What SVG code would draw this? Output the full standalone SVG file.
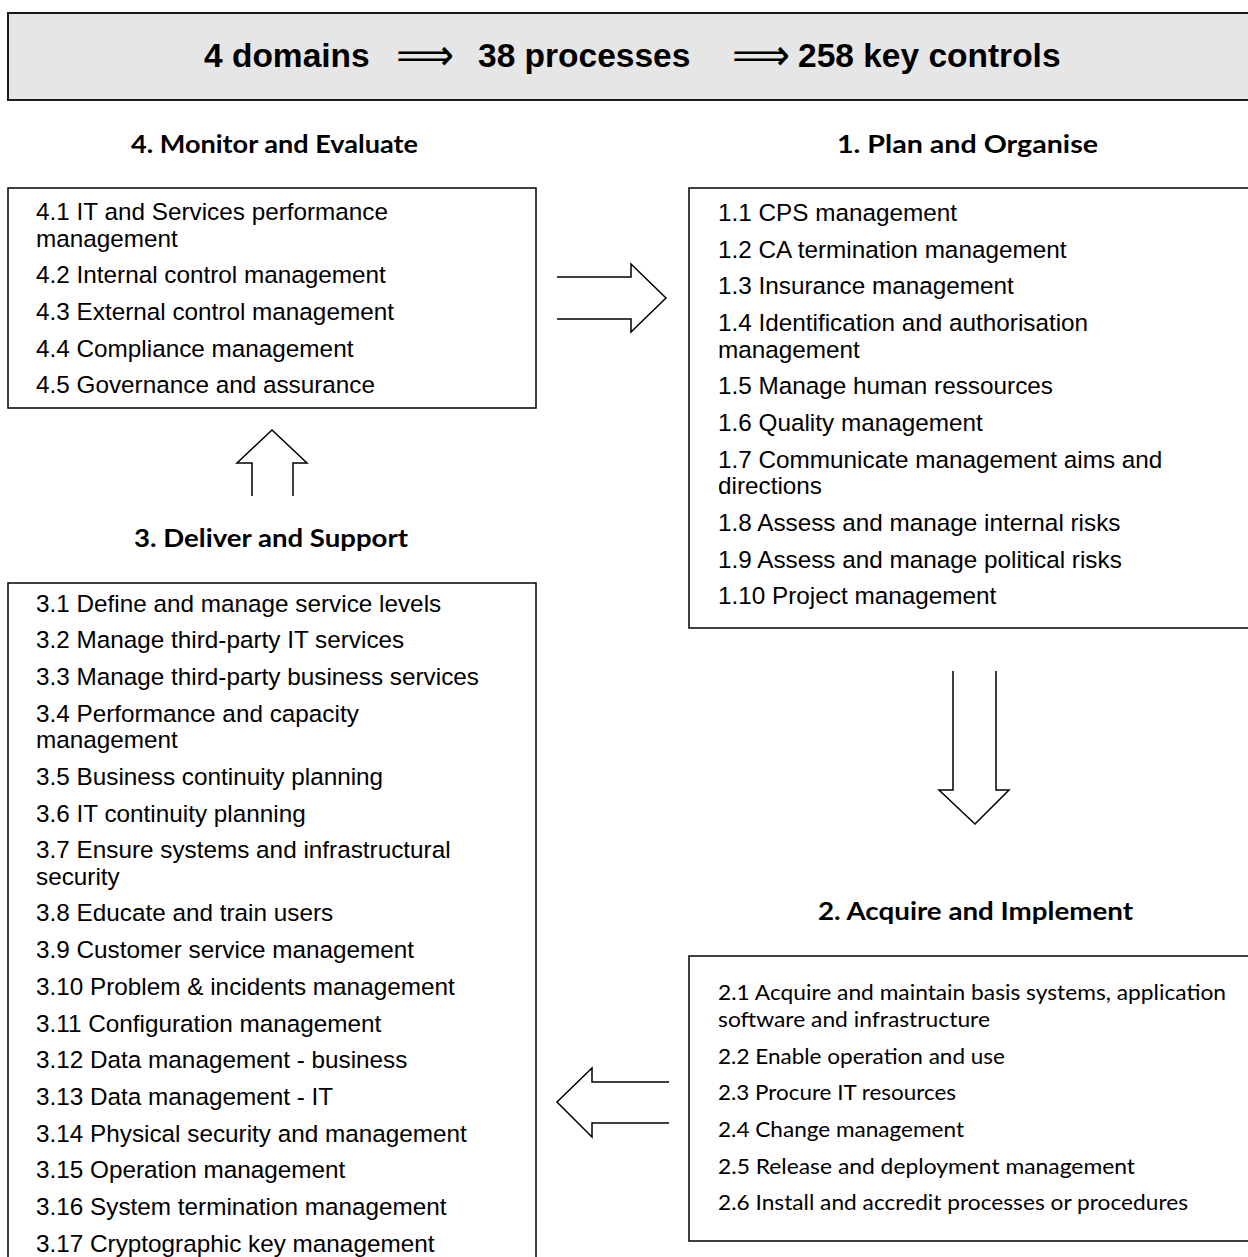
<svg xmlns="http://www.w3.org/2000/svg" width="1248" height="1257" viewBox="0 0 1248 1257">
<style>
.box{fill:#fff;stroke:#000;stroke-width:1.5}
.hdr{fill:#e6e6e6;stroke:#1a1a1a;stroke-width:2}
.ht{font-family:"Liberation Sans",Arial,sans-serif;font-weight:bold;font-size:33.5px;fill:#000}
.ha{font-family:"DejaVu Sans",sans-serif;font-size:44px;fill:#000}
.t{font-family:"Liberation Sans",Arial,sans-serif;font-size:24.3px;fill:#000}
.c{font-family:Lato,"Open Sans",sans-serif;font-size:20.5px;fill:#000}
.h{font-family:Lato,"Open Sans",sans-serif;font-weight:bold;font-size:24px;fill:#000;text-anchor:middle}
.arr{fill:#fff;stroke:#000;stroke-width:1.5;stroke-linejoin:miter}
</style>
<rect width="1248" height="1257" fill="#fff"/>

<g id="header">
<rect class="hdr" x="8" y="13" width="1260" height="87"/>
<text class="ht" x="204" y="67">4 domains</text>
<text class="ha" x="396" y="70" textLength="58" lengthAdjust="spacingAndGlyphs">⟹</text>
<text class="ht" x="478" y="67">38 processes</text>
<text class="ha" x="732" y="70" textLength="58" lengthAdjust="spacingAndGlyphs">⟹</text>
<text class="ht" x="798" y="67">258 key controls</text>
</g>

<g id="domain4">
<text class="h" x="274.5" y="153" textLength="287" lengthAdjust="spacingAndGlyphs">4. Monitor and Evaluate</text>
<rect class="box" x="8" y="188" width="528" height="220"/>
<text class="t" x="36" y="220">4.1 IT and Services performance</text>
<text class="t" x="36" y="246.5">management</text>
<text class="t" x="36" y="283.2">4.2 Internal control management</text>
<text class="t" x="36" y="319.9">4.3 External control management</text>
<text class="t" x="36" y="356.6">4.4 Compliance management</text>
<text class="t" x="36" y="393.3">4.5 Governance and assurance</text>
</g>

<g id="domain1">
<text class="h" x="967.5" y="153" textLength="261" lengthAdjust="spacingAndGlyphs">1. Plan and Organise</text>
<rect class="box" x="689" y="188" width="600" height="440"/>
<text class="t" x="718" y="221">1.1 CPS management</text>
<text class="t" x="718" y="257.7">1.2 CA termination management</text>
<text class="t" x="718" y="294.4">1.3 Insurance management</text>
<text class="t" x="718" y="331.1">1.4 Identification and authorisation</text>
<text class="t" x="718" y="357.6">management</text>
<text class="t" x="718" y="394.3">1.5 Manage human ressources</text>
<text class="t" x="718" y="431">1.6 Quality management</text>
<text class="t" x="718" y="467.7">1.7 Communicate management aims and</text>
<text class="t" x="718" y="494.2">directions</text>
<text class="t" x="718" y="530.9">1.8 Assess and manage internal risks</text>
<text class="t" x="718" y="567.6">1.9 Assess and manage political risks</text>
<text class="t" x="718" y="604.3">1.10 Project management</text>
</g>

<g id="domain2">
<text class="h" x="975.5" y="920" textLength="315" lengthAdjust="spacingAndGlyphs">2. Acquire and Implement</text>
<rect class="box" x="689" y="956" width="600" height="285"/>
<text class="c" x="718" y="1000" textLength="508" lengthAdjust="spacingAndGlyphs">2.1 Acquire and maintain basis systems, application</text>
<text class="c" x="718" y="1027" textLength="272" lengthAdjust="spacingAndGlyphs">software and infrastructure</text>
<text class="c" x="718" y="1063.5" textLength="287" lengthAdjust="spacingAndGlyphs">2.2 Enable operation and use</text>
<text class="c" x="718" y="1100" textLength="238" lengthAdjust="spacingAndGlyphs">2.3 Procure IT resources</text>
<text class="c" x="718" y="1136.8" textLength="246" lengthAdjust="spacingAndGlyphs">2.4 Change management</text>
<text class="c" x="718" y="1173.5" textLength="417" lengthAdjust="spacingAndGlyphs">2.5 Release and deployment management</text>
<text class="c" x="718" y="1210.2" textLength="470" lengthAdjust="spacingAndGlyphs">2.6 Install and accredit processes or procedures</text>
</g>

<g id="domain3">
<text class="h" x="271" y="547" textLength="274" lengthAdjust="spacingAndGlyphs">3. Deliver and Support</text>
<rect class="box" x="8" y="583" width="528" height="700"/>
<text class="t" x="36" y="611.5">3.1 Define and manage service levels</text>
<text class="t" x="36" y="648.2">3.2 Manage third-party IT services</text>
<text class="t" x="36" y="684.9">3.3 Manage third-party business services</text>
<text class="t" x="36" y="721.6">3.4 Performance and capacity</text>
<text class="t" x="36" y="748.1">management</text>
<text class="t" x="36" y="784.8">3.5 Business continuity planning</text>
<text class="t" x="36" y="821.5">3.6 IT continuity planning</text>
<text class="t" x="36" y="858.2">3.7 Ensure systems and infrastructural</text>
<text class="t" x="36" y="884.7">security</text>
<text class="t" x="36" y="921.4">3.8 Educate and train users</text>
<text class="t" x="36" y="958.1">3.9 Customer service management</text>
<text class="t" x="36" y="994.8">3.10 Problem &amp; incidents management</text>
<text class="t" x="36" y="1031.5">3.11 Configuration management</text>
<text class="t" x="36" y="1068.2">3.12 Data management - business</text>
<text class="t" x="36" y="1104.9">3.13 Data management - IT</text>
<text class="t" x="36" y="1141.6">3.14 Physical security and management</text>
<text class="t" x="36" y="1178.3">3.15 Operation management</text>
<text class="t" x="36" y="1215">3.16 System termination management</text>
<text class="t" x="36" y="1251.7">3.17 Cryptographic key management</text>
</g>

<g id="connectors">
<path id="arrow-4-to-1" class="arr" d="M557,277 H631 V264 L666,298 L631,332 V319 H557"/>
<path id="arrow-1-to-2" class="arr" d="M953,671 V790 H939 L975,824 L1009,790 H996 V671"/>
<path id="arrow-2-to-3" class="arr" d="M669,1082 H592 V1068 L557,1102 L592,1137 V1123 H669"/>
<path id="arrow-3-to-4" class="arr" d="M252,496 V463 H237 L272,430 L307,463 H293 V496"/>
</g>
</svg>
